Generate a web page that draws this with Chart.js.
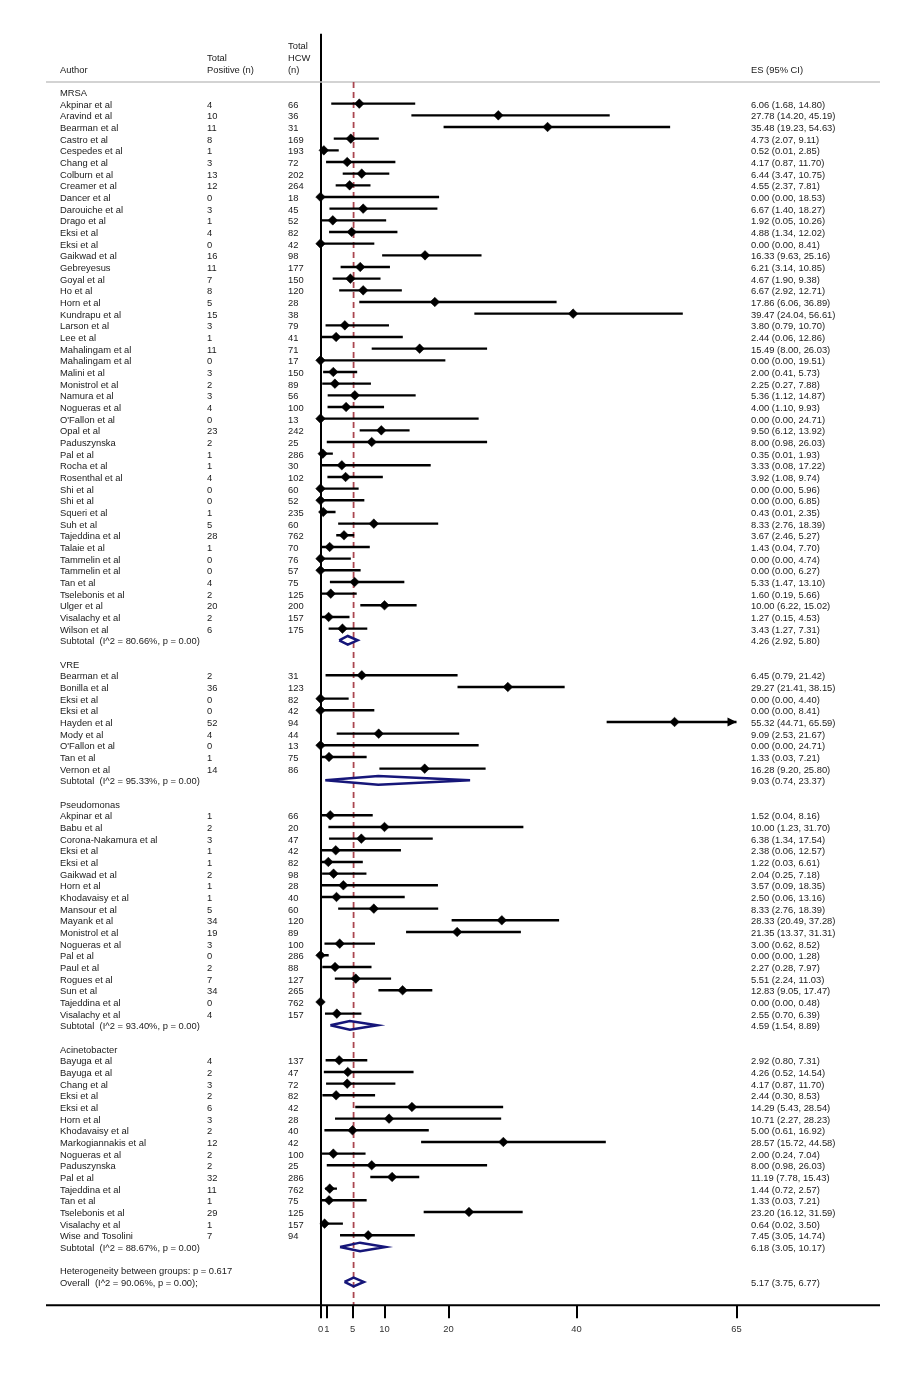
<!DOCTYPE html>
<html>
<head>
<meta charset="utf-8">
<script src="https://cdn.jsdelivr.net/npm/chart.js@4"></script>
<style>
  html, body { margin: 0; padding: 0; background: #fff; }
  .wrap { position: relative; width: 917px; height: 1376px; }
</style>
</head>
<body>
<div class="wrap"><canvas id="forest"></canvas></div>
<script>
// values (ES = prevalence %, 95% CI)
const mrsaAuthors = ['Akpinar et al', 'Aravind et al', 'Bearman et al', 'Castro et al', 'Cespedes et al', 'Chang et al',
  'Colburn et al', 'Creamer et al', 'Dancer et al', 'Darouiche et al', 'Drago et al', 'Eksi et al', 'Eksi et al',
  'Gaikwad et al', 'Gebreyesus', 'Goyal et al', 'Ho et al', 'Horn et al', 'Kundrapu et al', 'Larson et al', 'Lee et al',
  'Mahalingam et al', 'Mahalingam et al', 'Malini et al', 'Monistrol et al', 'Namura et al', 'Nogueras et al',
  "O'Fallon et al", 'Opal et al', 'Paduszynska', 'Pal et al', 'Rocha et al', 'Rosenthal et al', 'Shi et al', 'Shi et al',
  'Squeri et al', 'Suh et al', 'Tajeddina et al', 'Talaie et al', 'Tammelin et al', 'Tammelin et al', 'Tan et al',
  'Tselebonis et al', 'Ulger et al', 'Visalachy et al', 'Wilson et al'];
const mrsaPositive = [4, 10, 11, 8, 1, 3, 13, 12, 0, 3, 1, 4, 0, 16, 11, 7, 8, 5, 15, 3, 1, 11, 0, 3, 2, 3, 4, 0, 23, 2,
  1, 1, 4, 0, 0, 1, 5, 28, 1, 0, 0, 4, 2, 20, 2, 6];
const mrsaHcw = [66, 36, 31, 169, 193, 72, 202, 264, 18, 45, 52, 82, 42, 98, 177, 150, 120, 28, 38, 79, 41, 71, 17, 150,
  89, 56, 100, 13, 242, 25, 286, 30, 102, 60, 52, 235, 60, 762, 70, 76, 57, 75, 125, 200, 157, 175];
const mrsaEs = [6.06, 27.78, 35.48, 4.73, 0.52, 4.17, 6.44, 4.55, 0.00, 6.67, 1.92, 4.88, 0.00, 16.33, 6.21, 4.67, 6.67,
  17.86, 39.47, 3.80, 2.44, 15.49, 0.00, 2.00, 2.25, 5.36, 4.00, 0.00, 9.50, 8.00, 0.35, 3.33, 3.92, 0.00, 0.00, 0.43,
  8.33, 3.67, 1.43, 0.00, 0.00, 5.33, 1.60, 10.00, 1.27, 3.43];
const mrsaLower = [1.68, 14.20, 19.23, 2.07, 0.01, 0.87, 3.47, 2.37, 0.00, 1.40, 0.05, 1.34, 0.00, 9.63, 3.14, 1.90, 2.92,
  6.06, 24.04, 0.79, 0.06, 8.00, 0.00, 0.41, 0.27, 1.12, 1.10, 0.00, 6.12, 0.98, 0.01, 0.08, 1.08, 0.00, 0.00, 0.01,
  2.76, 2.46, 0.04, 0.00, 0.00, 1.47, 0.19, 6.22, 0.15, 1.27];
const mrsaUpper = [14.80, 45.19, 54.63, 9.11, 2.85, 11.70, 10.75, 7.81, 18.53, 18.27, 10.26, 12.02, 8.41, 25.16, 10.85,
  9.38, 12.71, 36.89, 56.61, 10.70, 12.86, 26.03, 19.51, 5.73, 7.88, 14.87, 9.93, 24.71, 13.92, 26.03, 1.93, 17.22, 9.74,
  5.96, 6.85, 2.35, 18.39, 5.27, 7.70, 4.74, 6.27, 13.10, 5.66, 15.02, 4.53, 7.31];

const vreAuthors = ['Bearman et al', 'Bonilla et al', 'Eksi et al', 'Eksi et al', 'Hayden et al', 'Mody et al',
  "O'Fallon et al", 'Tan et al', 'Vernon et al'];
const vrePositive = [2, 36, 0, 0, 52, 4, 0, 1, 14];
const vreHcw = [31, 123, 82, 42, 94, 44, 13, 75, 86];
const vreEs = [6.45, 29.27, 0.00, 0.00, 55.32, 9.09, 0.00, 1.33, 16.28];
const vreLower = [0.79, 21.41, 0.00, 0.00, 44.71, 2.53, 0.00, 0.03, 9.20];
const vreUpper = [21.42, 38.15, 4.40, 8.41, 65.59, 21.67, 24.71, 7.21, 25.80];

const pseudoAuthors = ['Akpinar et al', 'Babu et al', 'Corona-Nakamura et al', 'Eksi et al', 'Eksi et al', 'Gaikwad et al',
  'Horn et al', 'Khodavaisy et al', 'Mansour et al', 'Mayank et al', 'Monistrol et al', 'Nogueras et al', 'Pal et al',
  'Paul et al', 'Rogues et al', 'Sun et al', 'Tajeddina et al', 'Visalachy et al'];
const pseudoPositive = [1, 2, 3, 1, 1, 2, 1, 1, 5, 34, 19, 3, 0, 2, 7, 34, 0, 4];
const pseudoHcw = [66, 20, 47, 42, 82, 98, 28, 40, 60, 120, 89, 100, 286, 88, 127, 265, 762, 157];
const pseudoEs = [1.52, 10.00, 6.38, 2.38, 1.22, 2.04, 3.57, 2.50, 8.33, 28.33, 21.35, 3.00, 0.00, 2.27, 5.51, 12.83, 0.00, 2.55];
const pseudoLower = [0.04, 1.23, 1.34, 0.06, 0.03, 0.25, 0.09, 0.06, 2.76, 20.49, 13.37, 0.62, 0.00, 0.28, 2.24, 9.05, 0.00, 0.70];
const pseudoUpper = [8.16, 31.70, 17.54, 12.57, 6.61, 7.18, 18.35, 13.16, 18.39, 37.28, 31.31, 8.52, 1.28, 7.97, 11.03, 17.47, 0.48, 6.39];

const acinAuthors = ['Bayuga et al', 'Bayuga et al', 'Chang et al', 'Eksi et al', 'Eksi et al', 'Horn et al',
  'Khodavaisy et al', 'Markogiannakis et al', 'Nogueras et al', 'Paduszynska', 'Pal et al', 'Tajeddina et al',
  'Tan et al', 'Tselebonis et al', 'Visalachy et al', 'Wise and Tosolini'];
const acinPositive = [4, 2, 3, 2, 6, 3, 2, 12, 2, 2, 32, 11, 1, 29, 1, 7];
const acinHcw = [137, 47, 72, 82, 42, 28, 40, 42, 100, 25, 286, 762, 75, 125, 157, 94];
const acinEs = [2.92, 4.26, 4.17, 2.44, 14.29, 10.71, 5.00, 28.57, 2.00, 8.00, 11.19, 1.44, 1.33, 23.20, 0.64, 7.45];
const acinLower = [0.80, 0.52, 0.87, 0.30, 5.43, 2.27, 0.61, 15.72, 0.24, 0.98, 7.78, 0.72, 0.03, 16.12, 0.02, 3.05];
const acinUpper = [7.31, 14.54, 11.70, 8.53, 28.54, 28.23, 16.92, 44.58, 7.04, 26.03, 15.43, 2.57, 7.21, 31.59, 3.50, 14.74];

const groupNames = ['MRSA', 'VRE', 'Pseudomonas', 'Acinetobacter'];
const subtotalI2 = ['80.66%', '95.33%', '93.40%', '88.67%'];
const subtotalP = ['0.00', '0.00', '0.00', '0.00'];
const subtotalEs = [4.26, 9.03, 4.59, 6.18];
const subtotalLower = [2.92, 0.74, 1.54, 3.05];
const subtotalUpper = [5.80, 23.37, 8.89, 10.17];

const betweenGroupsP = '0.617';
const overallI2 = '90.06%';
const overallP = '0.00';
const overallEs = 5.17;
const overallLower = 3.75;
const overallUpper = 6.77;

const xTicks = [0, 1, 5, 10, 20, 40, 65];

// ---- layout constants ----
const X_MAX = 65;
const Y_MIN = -5, Y_MAX = 104;
const COL_AUTHOR = 60, COL_POS = 207, COL_HCW = 288, COL_ES = 751;
const TEXT_NUDGE = 1.5; // canvas 'middle' sits a touch high
const FONT = '9.4px "Liberation Sans", Arial, sans-serif';
const NAVY = '#161679';
const DIAMOND_H = 0.37;

const groups = [
  { authors: mrsaAuthors, pos: mrsaPositive, hcw: mrsaHcw, es: mrsaEs, lo: mrsaLower, hi: mrsaUpper },
  { authors: vreAuthors, pos: vrePositive, hcw: vreHcw, es: vreEs, lo: vreLower, hi: vreUpper },
  { authors: pseudoAuthors, pos: pseudoPositive, hcw: pseudoHcw, es: pseudoEs, lo: pseudoLower, hi: pseudoUpper },
  { authors: acinAuthors, pos: acinPositive, hcw: acinHcw, es: acinEs, lo: acinLower, hi: acinUpper },
];

// one entry per printed line of the plot
const rows = [];
let r = 0;
groups.forEach((g, gi) => {
  rows.push({ kind: 'group', row: r++, label: groupNames[gi] });
  g.authors.forEach((a, i) => {
    rows.push({ kind: 'study', row: r++, label: a, pos: g.pos[i], hcw: g.hcw[i], es: g.es[i], lo: g.lo[i], hi: g.hi[i] });
  });
  rows.push({ kind: 'pooled', row: r++, label: 'Subtotal  (I^2 = ' + subtotalI2[gi] + ', p = ' + subtotalP[gi] + ')',
    es: subtotalEs[gi], lo: subtotalLower[gi], hi: subtotalUpper[gi] });
  r++; // empty line between groups
});
rows.push({ kind: 'note', row: r++, label: 'Heterogeneity between groups: p = ' + betweenGroupsP });
rows.push({ kind: 'pooled', row: r++, label: 'Overall  (I^2 = ' + overallI2 + ', p = ' + overallP + ');',
  es: overallEs, lo: overallLower, hi: overallUpper });

const gap = { x: null, y: null };
const ciData = [];
const esData = [];
const diamondData = [];
rows.forEach(d => {
  if (d.kind === 'study') {
    ciData.push({ x: d.lo, y: d.row }, { x: Math.min(d.hi, X_MAX), y: d.row }, gap);
    esData.push({ x: d.es, y: d.row });
  } else if (d.kind === 'pooled') {
    diamondData.push({ x: d.lo, y: d.row }, { x: d.es, y: d.row - DIAMOND_H }, { x: d.hi, y: d.row },
      { x: d.es, y: d.row + DIAMOND_H }, { x: d.lo, y: d.row }, gap);
  }
});

const fmt = v => v.toFixed(2);

const forestText = {
  id: 'forestText',
  beforeDatasetsDraw(chart) {
    const { ctx, scales: { y } } = chart;
    ctx.save();
    ctx.strokeStyle = '#c4c4c4';
    ctx.lineWidth = 1.5;
    const yy = y.getPixelForValue(-0.86);
    ctx.beginPath();
    ctx.moveTo(46, yy);
    ctx.lineTo(880, yy);
    ctx.stroke();
    ctx.restore();
  },
  afterDraw(chart) {
    const { ctx, chartArea, scales: { x, y } } = chart;
    ctx.save();
    ctx.font = FONT;
    ctx.fillStyle = '#1a1a1a';
    ctx.textBaseline = 'middle';
    const put = (txt, px, row) => ctx.fillText(txt, px, y.getPixelForValue(row) + TEXT_NUDGE);

    put('Total', COL_HCW, -4);
    put('Total', COL_POS, -3);
    put('HCW', COL_HCW, -3);
    put('Author', COL_AUTHOR, -2);
    put('Positive (n)', COL_POS, -2);
    put('(n)', COL_HCW, -2);
    put('ES (95% CI)', COL_ES, -2);

    rows.forEach(d => {
      put(d.label, COL_AUTHOR, d.row);
      if (d.kind === 'study') {
        put(String(d.pos), COL_POS, d.row);
        put(String(d.hcw), COL_HCW, d.row);
      }
      if (d.kind === 'study' || d.kind === 'pooled') {
        put(fmt(d.es) + ' (' + fmt(d.lo) + ', ' + fmt(d.hi) + ')', COL_ES, d.row);
      }
    });

    // long bottom rule
    ctx.strokeStyle = '#000';
    ctx.lineWidth = 2;
    ctx.beginPath();
    ctx.moveTo(46, chartArea.bottom);
    ctx.lineTo(880, chartArea.bottom);
    ctx.stroke();

    // arrow heads for intervals running past the axis
    ctx.fillStyle = '#000';
    rows.forEach(d => {
      if (d.kind === 'study' && d.hi > X_MAX) {
        const tip = x.getPixelForValue(X_MAX);
        const py = y.getPixelForValue(d.row);
        ctx.beginPath();
        ctx.moveTo(tip, py);
        ctx.lineTo(tip - 9, py - 4.5);
        ctx.lineTo(tip - 9, py + 4.5);
        ctx.closePath();
        ctx.fill();
      }
    });
    ctx.restore();
  }
};

Chart.defaults.font.family = '"Liberation Sans", Arial, sans-serif';

new Chart(document.getElementById('forest'), {
  type: 'line',
  data: {
    datasets: [
      {
        data: ciData,
        borderColor: '#000',
        borderWidth: 2.4,
        pointRadius: 0,
        spanGaps: false,
        clip: false,
        order: 3,
      },
      {
        type: 'scatter',
        data: esData,
        pointStyle: 'rectRot',
        pointRadius: 4.8,
        backgroundColor: '#000',
        borderColor: '#000',
        borderWidth: 0.5,
        clip: false,
        order: 1,
      },
      {
        data: diamondData,
        borderColor: NAVY,
        borderWidth: 2.5,
        borderJoinStyle: 'miter',
        pointRadius: 0,
        fill: false,
        tension: 0,
        spanGaps: false,
        clip: false,
        order: 2,
      },
      {
        data: [{ x: overallEs, y: -0.86 }, { x: overallEs, y: Y_MAX }],
        borderColor: '#aa4650',
        borderWidth: 1.8,
        borderDash: [6, 4],
        pointRadius: 0,
        clip: false,
        order: 10,
      },
    ],
  },
  options: {
    responsive: true,
    maintainAspectRatio: false,
    animation: false,
    events: [],
    layout: { padding: { left: 320.5, right: 180.5, top: 33.67, bottom: 30.7 } },
    plugins: { legend: { display: false }, tooltip: { enabled: false } },
    scales: {
      x: {
        type: 'linear',
        min: 0,
        max: X_MAX,
        afterBuildTicks: axis => { axis.ticks = xTicks.map(v => ({ value: v })); },
        afterFit: axis => { axis.height = 40; axis.paddingLeft = 0; axis.paddingRight = 0; },
        border: { display: false },
        grid: {
          drawOnChartArea: true,
          color: c => (c.tick && c.tick.value === 0 ? '#000' : 'rgba(0,0,0,0)'),
          lineWidth: 2,
          tickColor: '#000',
          tickWidth: 2,
          tickLength: 13,
        },
        ticks: {
          autoSkip: false,
          maxRotation: 0,
          padding: 5,
          color: '#333',
          font: { size: 9.4 },
          callback: v => String(v),
        },
      },
      y: {
        type: 'linear',
        display: false,
        reverse: true,
        min: Y_MIN,
        max: Y_MAX,
      },
    },
  },
  plugins: [forestText],
});
</script>
</body>
</html>
